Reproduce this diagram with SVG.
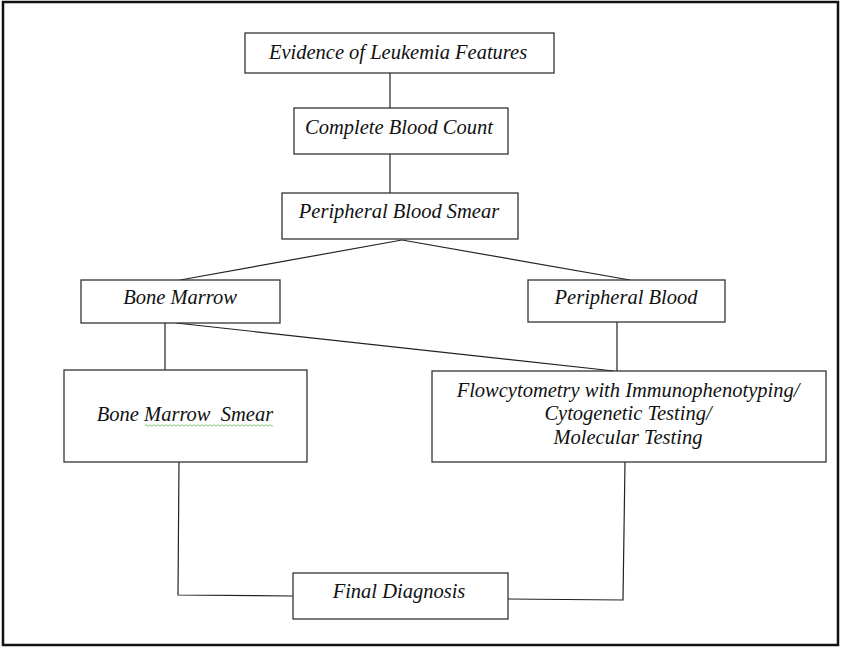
<svg xmlns="http://www.w3.org/2000/svg" width="844" height="647" viewBox="0 0 844 647">
<style>
.box{fill:#fff;stroke:#333;stroke-width:1.3}
.lbl{font-family:"Liberation Serif","Times New Roman",serif;font-style:italic;font-size:20.5px;fill:#111;text-anchor:middle}
.con{fill:none;stroke:#222;stroke-width:1.2}
</style>
<rect x="0" y="0" width="844" height="647" fill="#fff"/>
<rect x="3" y="2" width="835" height="643" fill="none" stroke="#111" stroke-width="2.5"/>
<g id="connectors" class="con">
<line x1="390" y1="73" x2="390" y2="108"/>
<line x1="390" y1="154" x2="390" y2="193"/>
<line x1="402" y1="240" x2="180" y2="280"/>
<line x1="402" y1="240" x2="630" y2="280"/>
<line x1="165" y1="323" x2="165" y2="370"/>
<line x1="176" y1="323" x2="614" y2="371"/>
<line x1="617" y1="322" x2="617" y2="371"/>
<polyline points="179,460 178,595 293,596"/>
<polyline points="508,599 623,600 625,462"/>
</g>
<g id="evidence"><rect class="box" x="245" y="33" width="309" height="40"/><text class="lbl" x="398" y="59">Evidence of Leukemia Features</text></g>
<g id="cbc"><rect class="box" x="294" y="108" width="214" height="46"/><text class="lbl" x="399" y="134">Complete Blood Count</text></g>
<g id="pbs"><rect class="box" x="282" y="193" width="236" height="46"/><text class="lbl" x="399" y="218">Peripheral Blood Smear</text></g>
<g id="bm"><rect class="box" x="81" y="280" width="199" height="43"/><text class="lbl" x="180" y="304">Bone Marrow</text></g>
<g id="pb"><rect class="box" x="528" y="280" width="197" height="42"/><text class="lbl" x="626" y="304">Peripheral Blood</text></g>
<g id="bms"><rect class="box" x="64" y="370" width="243" height="92"/><text class="lbl" x="185" y="421" xml:space="preserve">Bone Marrow  Smear</text>
<path d="M145,425.5 q1,-1.5 2,0 t2,0 t2,0 t2,0 t2,0 t2,0 t2,0 t2,0 t2,0 t2,0 t2,0 t2,0 t2,0 t2,0 t2,0 t2,0 t2,0 t2,0 t2,0 t2,0 t2,0 t2,0 t2,0 t2,0 t2,0 t2,0 t2,0 t2,0 t2,0 t2,0 t2,0 t2,0 t2,0 t2,0 t2,0 t2,0 t2,0 t2,0 t2,0 t2,0 t2,0 t2,0 t2,0 t2,0 t2,0 t2,0 t2,0 t2,0 t2,0 t2,0 t2,0 t2,0 t2,0 t2,0 t2,0 t2,0 t2,0 t2,0 t2,0 t2,0 t2,0 t2,0 t2,0 t2,0" fill="none" stroke="#5bbf5b" stroke-width="0.8"/></g>
<g id="flow"><rect class="box" x="432" y="371" width="394" height="91"/>
<text class="lbl" x="628" y="397">Flowcytometry with Immunophenotyping/</text>
<text class="lbl" x="628" y="420">Cytogenetic Testing/</text>
<text class="lbl" x="628" y="444">Molecular Testing</text></g>
<g id="final"><rect class="box" x="293" y="573" width="215" height="46"/><text class="lbl" x="399" y="598">Final Diagnosis</text></g>
</svg>
